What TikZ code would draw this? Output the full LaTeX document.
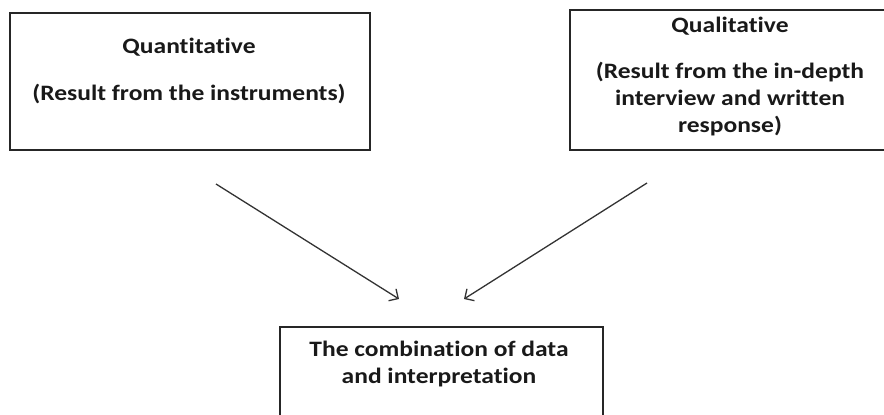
\documentclass[tikz,border=0pt]{standalone}
\usepackage{fontspec}
\setmainfont{Carlito}
\newfontfamily\boxfont[FakeStretch=1.16,RawFeature={-liga;-clig;-calt;-dlig}]{Carlito}
\usetikzlibrary{arrows.meta}
\tikzset{
  x=1pt,y=-1pt,
  box/.style={draw=black!85,line width=1.4pt,minimum width=#1,inner sep=0pt},
  txt/.style={font=\boxfont\bfseries\fontsize{22}{27}\selectfont,align=center,inner sep=0pt,anchor=base,text=black!90},
  conn/.style={draw=black!80,line width=1.3pt,-{Straight Barb[length=7pt,width=14pt,line width=1.3pt]}}
}
\begin{document}
\begin{tikzpicture}
\useasboundingbox (0,0) rectangle (884,415);
\clip (0,0) rectangle (884,415);
% boxes
\node[box=360pt,minimum height=137pt] (qbox) at (190,81.5) {};
\node[box=322pt,minimum height=140pt] (lbox) at (731,80) {};
\node[box=323pt,minimum height=130pt] (cbox) at (441.5,392) {};
% texts (anchored at the baseline of the last line)
\node[txt] (qt) at (189,100) {Quantitative\\[20pt](Result from the instruments)};
\node[txt] (lt) at (730,132) {Qualitative\\[19pt](Result from the in-depth\\interview and written\\response)};
\node[txt] (ct) at (439,383) {The combination of data\\and interpretation};
% connectors
\coordinate (a1) at (216,184);
\coordinate (a2) at (399,299);
\coordinate (b1) at (647,183);
\coordinate (b2) at (464,299);
\draw[conn] (a1) -- (a2);
\draw[conn] (b1) -- (b2);
\end{tikzpicture}
\end{document}
